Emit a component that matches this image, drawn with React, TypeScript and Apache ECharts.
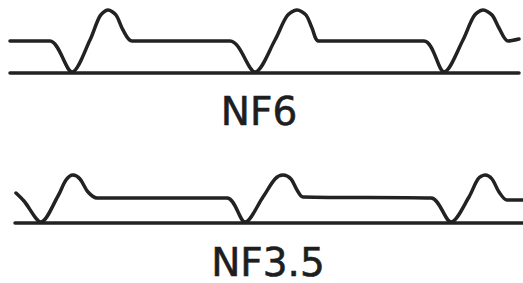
import React, { useEffect, useRef } from "react";
import * as echarts from "echarts";

// Profile names (labels under each sheet profile)
const profileNames = ["NF6", "NF3.5"];

// NF6 profile outline points [x, y] (drawing units, y downwards)
const nf6Profile: [number, number][] = [
  [10, 41], [50, 41], [72, 72], [90, 40], [100, 16], [108, 10], [116, 15], [123, 30], [132, 41],
  [230, 41], [255, 72], [275, 40], [287, 16], [297, 10], [306, 15], [312, 28], [319, 41],
  [424, 41], [444, 72], [463, 40], [474, 16], [483, 10], [492, 15], [499, 28], [508, 41],
  [519, 39],
];
const nf6Base: [number, number][] = [[10, 73], [519, 73]];

// NF3.5 profile outline points
const nf35Profile: [number, number][] = [
  [16, 193], [24, 201], [41, 222], [58, 196], [66, 180], [73, 175], [80, 179], [88, 192], [97, 198],
  [227, 198], [245, 222], [263, 197], [275, 179], [283, 175], [291, 179], [297, 190], [303, 197],
  [431, 198], [451, 222], [469, 197], [478, 179], [485, 175], [492, 179], [499, 192], [507, 200],
  [523, 200],
];
const nf35Base: [number, number][] = [[15, 223], [523, 223]];

const INK = "#222222";

export default function App() {
  const ref = useRef<HTMLDivElement>(null);
  useEffect(() => {
    if (!ref.current) return;
    const chart = echarts.init(ref.current, undefined, { renderer: "svg" });
    const lineSeries = (data: [number, number][], smooth: number | boolean) => ({
      type: "line",
      data,
      smooth,
      symbol: "none",
      lineStyle: { color: INK, width: 3.5, cap: "round", join: "round" },
      silent: true,
    });
    const label = (text: string, x: number, y: number) => ({
      type: "text",
      x,
      y,
      style: {
        text,
        fontFamily: "DejaVu Sans",
        fontSize: 39,
        fill: "#1e1e1e",
        stroke: "#1e1e1e",
        lineWidth: 0.6,
        textAlign: "center",
        textVerticalAlign: "middle",
      },
    });
    chart.setOption({
      animation: false,
      backgroundColor: "#ffffff",
      grid: { left: 0, right: 0, top: 0, bottom: 0 },
      xAxis: { type: "value", min: 0, max: 523, show: false },
      yAxis: { type: "value", min: 0, max: 283, inverse: true, show: false },
      series: [
        lineSeries(nf6Profile, 0.3),
        lineSeries(nf6Base, false),
        lineSeries(nf35Profile, 0.3),
        lineSeries(nf35Base, false),
      ],
      graphic: [
        label(profileNames[0], 259, 111),
        label(profileNames[1], 268, 262),
      ],
    });
    return () => chart.dispose();
  }, []);
  return (
    <div
      ref={ref}
      style={{ position: "fixed", left: 0, top: 0, width: 523, height: 283 }}
    />
  );
}
